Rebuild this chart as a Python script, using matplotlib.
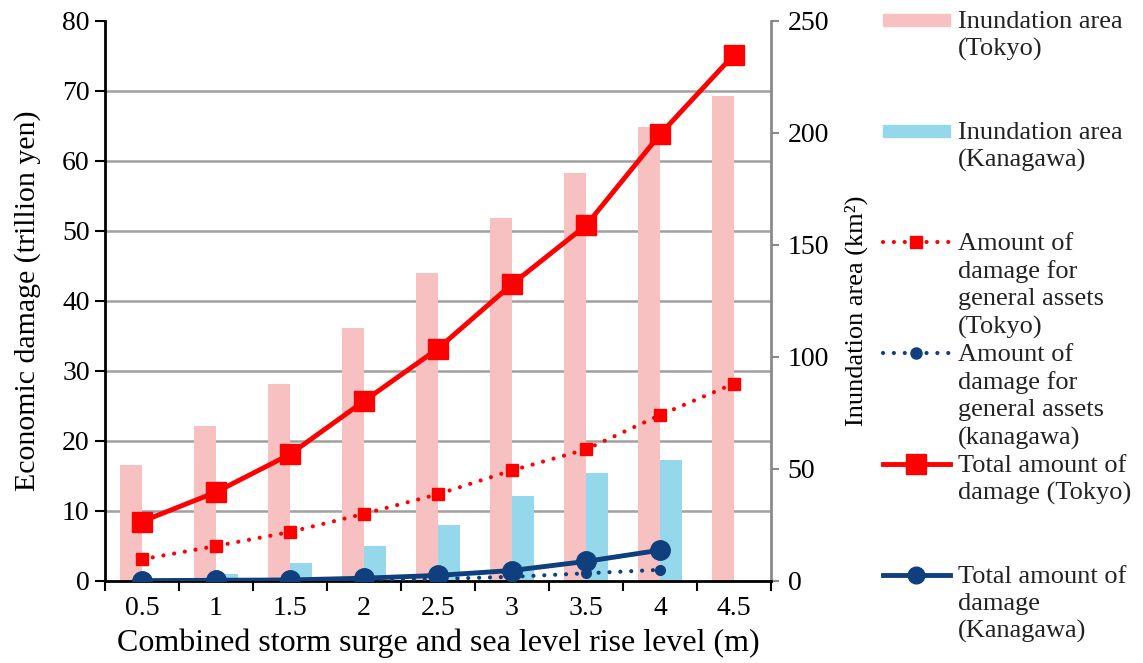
import numpy as np
import matplotlib
matplotlib.use("Agg")
import matplotlib.pyplot as plt
from matplotlib.patches import Rectangle

levels = ["0.5", "1", "1.5", "2", "2.5", "3", "3.5", "4", "4.5"]

# inundation area (km2), right axis
area_tokyo = [52, 69, 88, 113, 137.5, 162, 182, 202.5, 216.5]
area_kanagawa = [0, 3, 8, 15.6, 25, 38, 48, 54]

# economic damage (trillion yen), left axis
total_tokyo = [8.5, 12.7, 18.1, 25.7, 33.2, 42.4, 50.8, 63.8, 75.2]
general_tokyo = [3.1, 5.0, 7.0, 9.6, 12.4, 15.8, 18.8, 23.7, 28.2]
total_kanagawa = [0.05, 0.1, 0.15, 0.4, 0.8, 1.5, 2.8, 4.4]
general_kanagawa = [0.05, 0.05, 0.05, 0.1, 0.3, 0.6, 1.1, 1.6]

pink = "#f7c1c1"
sky = "#95d8ec"
red = "#ff0000"
navy = "#0f3f7d"
dotted = (0, (0.01, 2.6))

plt.rcParams["font.family"] = ["Liberation Serif", "DejaVu Serif"]

fig = plt.figure(figsize=(11.43, 6.63), dpi=100)
ax = fig.add_axes([105 / 1143, 1 - 581 / 663, 666 / 1143, 560 / 663])
ax2 = ax.twinx()
ax.set_zorder(ax2.get_zorder() + 1)
ax.patch.set_visible(False)

x = np.arange(len(levels))
xk = x[:len(area_kanagawa)]

# bars on the right axis
ax2.bar(x - 0.15, area_tokyo, width=0.3, color=pink, zorder=2)
ax2.bar(xk + 0.15, area_kanagawa, width=0.3, color=sky, zorder=2)
ax2.set_ylim(0, 250)
ax2.set_yticks(np.arange(0, 251, 50))
ax2.set_yticks(np.arange(0, 81, 10) * 250 / 80, minor=True)
ax2.grid(which="minor", axis="y", color="#a0a0a0", lw=1.8, zorder=0)
ax2.set_axisbelow(True)
ax2.tick_params(axis="y", which="minor", length=0)
ax2.tick_params(axis="y", which="major", length=6, width=1.5, color="#8a8a8a",
                labelsize=20, pad=6)
ax2.set_ylabel("Inundation area (km²)", fontsize=19)
ax2.yaxis.set_label_coords(1.111, 0.482)
for s in ["top", "left", "bottom"]:
    ax2.spines[s].set_visible(False)
ax2.spines["right"].set_color("#8a8a8a")
ax2.spines["right"].set_linewidth(2)

# lines on the left axis
ax.plot(x, general_tokyo, color=red, lw=3, linestyle=dotted,
        dash_capstyle="round", marker="s", ms=9, zorder=3)
ax.plot(xk, general_kanagawa, color=navy, lw=3, linestyle=dotted,
        dash_capstyle="round", marker="o", ms=7, zorder=3)
ax.plot(x, total_tokyo, color=red, lw=3.5, marker="s", ms=14, zorder=4)
ax.plot(xk, total_kanagawa, color=navy, lw=3.5, marker="o", ms=14, zorder=4)

ax.set_xlim(-0.5, len(levels) - 0.5)
ax.set_ylim(0, 80)
ax.set_yticks(np.arange(0, 81, 10))
ax.set_xticks(x)
ax.set_xticklabels(levels)
ax.set_xticks(np.arange(-0.5, len(levels), 1), minor=True)
ax.tick_params(axis="x", which="major", length=0, labelsize=20, pad=11)
ax.tick_params(axis="x", which="minor", length=7, width=1.5, direction="out")
ax.tick_params(axis="y", length=7, width=1.5, labelsize=20, pad=4)
ax.set_xlabel("Combined storm surge and sea level rise level (m)", fontsize=23, labelpad=5)
ax.set_ylabel("Economic damage (trillion yen)", fontsize=21.5, labelpad=15)
for s in ["top", "right"]:
    ax.spines[s].set_visible(False)
ax.spines["left"].set_linewidth(2)
ax.spines["bottom"].set_linewidth(2)

# legend drawn in its own pixel-space axes
lax = fig.add_axes([880 / 1143, 0, 263 / 1143, 1])
lax.set_xlim(880, 1143)
lax.set_ylim(663, 0)
lax.axis("off")

entries = [
    ("bar", pink, None, "Inundation area\n(Tokyo)"),
    ("bar", sky, None, "Inundation area\n(Kanagawa)"),
    ("dot", red, "s", "Amount of\ndamage for\ngeneral assets\n(Tokyo)"),
    ("dot", navy, "o", "Amount of\ndamage for\ngeneral assets\n(kanagawa)"),
    ("line", red, "s", "Total amount of\ndamage (Tokyo)"),
    ("line", navy, "o", "Total amount of\ndamage\n(Kanagawa)"),
]
y0, dy = 20, 111
for i, (kind, col, mk, label) in enumerate(entries):
    yy = y0 + i * dy
    if kind == "bar":
        lax.add_patch(Rectangle((883, yy - 6), 67, 12, color=col))
    elif kind == "dot":
        lax.plot([883, 916, 950], [yy, yy, yy], color=col, lw=3,
                 linestyle=dotted, dash_capstyle="round",
                 marker=mk, ms=9 if mk == "s" else 8, markevery=[1])
    else:
        lax.plot([883, 916, 950], [yy, yy, yy], color=col, lw=3.5,
                 marker=mk, ms=14 if mk == "s" else 12, markevery=[1])
    lax.text(958, yy - 9, label, fontsize=19, va="top", ha="left",
             linespacing=1.3, color="#222222")

fig.savefig("out.png", dpi=100)
